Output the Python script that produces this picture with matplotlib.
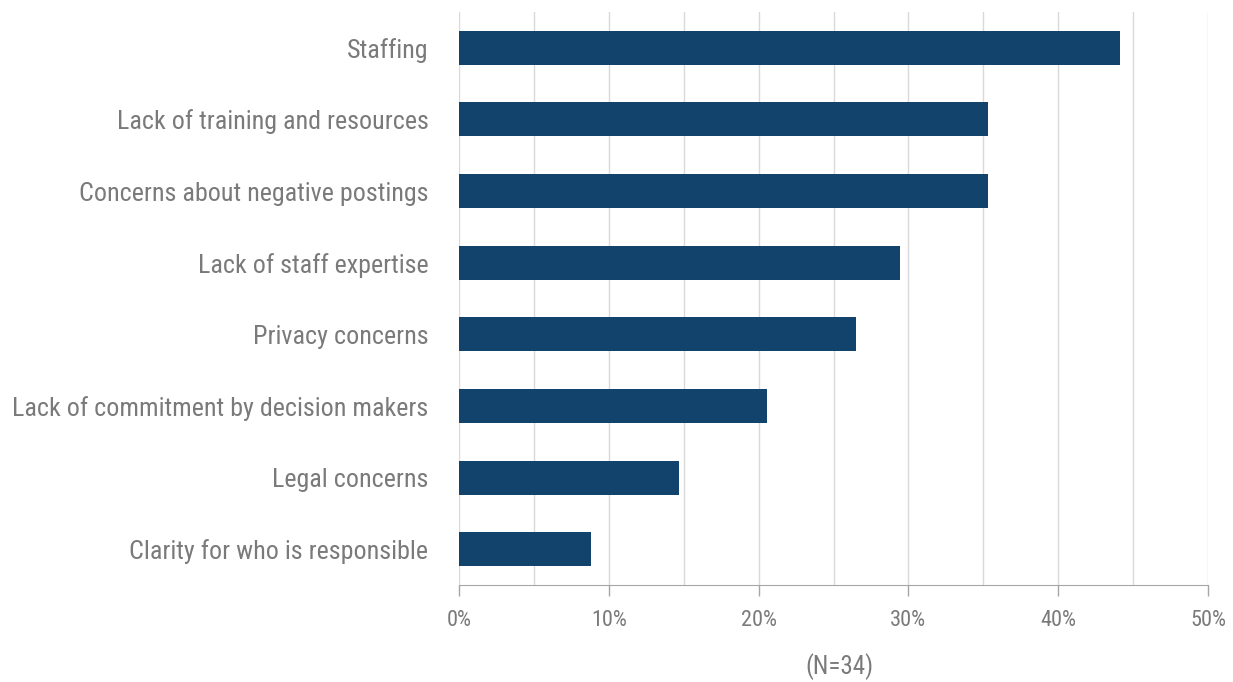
import matplotlib.pyplot as plt
from matplotlib import font_manager
from matplotlib.ticker import MultipleLocator, PercentFormatter

categories = [
    "Staffing",
    "Lack of training and resources",
    "Concerns about negative postings",
    "Lack of staff expertise",
    "Privacy concerns",
    "Lack of commitment by decision makers",
    "Legal concerns",
    "Clarity for who is responsible",
]
counts = [15, 12, 12, 10, 9, 7, 5, 3]
n_total = 34
shares = [c / n_total * 100 for c in counts]

bar_color = "#12436d"
text_color = "#7a7a7a"

# pick a narrow font, falling back to DejaVu
installed = {f.name for f in font_manager.fontManager.ttflist}
preferred = ["Roboto Condensed", "Open Sans Condensed", "Liberation Sans Narrow",
             "Arial Narrow", "DejaVu Sans"]
main_font = next(f for f in preferred if f in installed or f == "DejaVu Sans")
plt.rcParams["font.family"] = [main_font, "DejaVu Sans"]
if main_font == "DejaVu Sans":
    plt.rcParams["font.stretch"] = "condensed"

fig = plt.figure(figsize=(12.33, 6.82), dpi=100)
ax = fig.add_axes([0.3723, 0.1422, 0.6074, 0.8402])
renderer = fig.canvas.get_renderer()


def fit_size(text, width_px, base=20):
    # font size that makes text span roughly width_px pixels
    t = fig.text(0, 0, text, fontsize=base)
    w = t.get_window_extent(renderer).width
    t.remove()
    return base * width_px / w


label_size = fit_size("Lack of commitment by decision makers", 416)
tick_size = fit_size("10%", 36)
note_size = fit_size(f"(N={n_total})", 68)

y = list(range(len(categories)))
ax.barh(y, shares, height=0.475, color=bar_color, zorder=3)
ax.set_ylim(len(categories) - 0.5, -0.5)
ax.set_xlim(0, 50)

ax.set_yticks(y)
ax.set_yticklabels(categories, fontsize=label_size, color=text_color)
ax.tick_params(axis="y", length=0, pad=22)

ax.xaxis.set_major_locator(MultipleLocator(10))
ax.xaxis.set_minor_locator(MultipleLocator(5))
ax.xaxis.set_major_formatter(PercentFormatter(decimals=0))
ax.tick_params(axis="x", which="major", length=8, width=1, color="#a6a6a6",
               labelsize=tick_size, labelcolor=text_color, pad=10)
ax.tick_params(axis="x", which="minor", length=0)

ax.grid(axis="x", which="both", color="#d9d9d9", linewidth=1, zorder=0)
for side in ["top", "right", "left"]:
    ax.spines[side].set_visible(False)
ax.spines["bottom"].set_color("#a6a6a6")

fig.text(0.681, 0.022, f"(N={n_total})", ha="center", va="center",
         fontsize=note_size, color=text_color)

fig.savefig("out.png", dpi=100)
